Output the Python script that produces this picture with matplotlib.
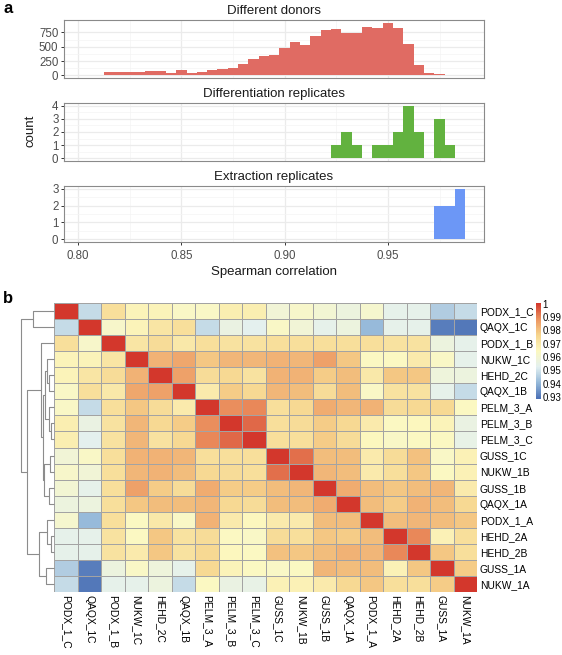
import numpy as np
import matplotlib
matplotlib.use("Agg")
import matplotlib.pyplot as plt
from matplotlib.colors import LinearSegmentedColormap

plt.rcParams['font.family'] = ['Liberation Sans', 'DejaVu Sans']

W, H = 562, 655

# ---- panel a: histograms of spearman correlation (bin centres, width 0.005)
bin_width = 0.005
donor_bins = [0.805, 0.810, 0.815, 0.820, 0.825, 0.830, 0.835, 0.840, 0.845, 0.850,
              0.855, 0.860, 0.865, 0.870, 0.875, 0.880, 0.885, 0.890, 0.895, 0.900,
              0.905, 0.910, 0.915, 0.920, 0.925, 0.930, 0.935, 0.940, 0.945, 0.950,
              0.955, 0.960, 0.965, 0.970, 0.975, 0.980, 0.985]
donor_counts = [12, 15, 60, 62, 55, 58, 80, 75, 50, 90,
                50, 63, 85, 115, 130, 200, 280, 343, 350, 480,
                578, 538, 687, 796, 813, 738, 744, 841, 836, 921,
                830, 544, 189, 40, 17, 10, 8]
diff_bins = [0.925, 0.930, 0.935, 0.945, 0.950, 0.955, 0.960, 0.965, 0.975, 0.980]
diff_counts = [1, 2, 1, 1, 1, 2, 4, 2, 3, 1]
extr_bins = [0.975, 0.980, 0.985]
extr_counts = [2, 2, 3]

# ---- panel b: correlation heatmap
samples = ["PODX_1_C", "QAQX_1C", "PODX_1_B", "NUKW_1C", "HEHD_2C", "QAQX_1B",
           "PELM_3_A", "PELM_3_B", "PELM_3_C", "GUSS_1C", "NUKW_1B", "GUSS_1B",
           "QAQX_1A", "PODX_1_A", "HEHD_2A", "HEHD_2B", "GUSS_1A", "NUKW_1A"]
# upper triangle, row i holds columns i+1 .. 17
upper = [
    [0.948, 0.973, 0.966, 0.966, 0.963, 0.963, 0.968, 0.968, 0.959, 0.962, 0.960, 0.957, 0.961, 0.954, 0.954, 0.945, 0.948],
    [0.962, 0.966, 0.971, 0.973, 0.948, 0.956, 0.953, 0.963, 0.959, 0.954, 0.957, 0.941, 0.954, 0.954, 0.931, 0.930],
    [0.971, 0.974, 0.970, 0.973, 0.972, 0.972, 0.973, 0.973, 0.973, 0.973, 0.973, 0.972, 0.972, 0.957, 0.954],
    [0.983, 0.985, 0.979, 0.982, 0.982, 0.983, 0.982, 0.986, 0.979, 0.964, 0.964, 0.969, 0.963, 0.954],
    [0.986, 0.974, 0.975, 0.972, 0.983, 0.983, 0.978, 0.981, 0.970, 0.979, 0.979, 0.958, 0.957],
    [0.969, 0.978, 0.975, 0.982, 0.981, 0.974, 0.981, 0.963, 0.972, 0.972, 0.954, 0.948],
    [0.989, 0.990, 0.973, 0.975, 0.984, 0.982, 0.983, 0.974, 0.975, 0.975, 0.964],
    [0.994, 0.973, 0.974, 0.978, 0.975, 0.969, 0.964, 0.965, 0.966, 0.956],
    [0.973, 0.973, 0.978, 0.974, 0.965, 0.963, 0.964, 0.964, 0.955],
    [0.993, 0.981, 0.981, 0.969, 0.974, 0.980, 0.963, 0.967],
    [0.982, 0.981, 0.969, 0.973, 0.979, 0.964, 0.967],
    [0.984, 0.981, 0.979, 0.981, 0.982, 0.969],
    [0.981, 0.978, 0.983, 0.981, 0.975],
    [0.981, 0.982, 0.981, 0.979],
    [0.990, 0.967, 0.973],
    [0.979, 0.973],
    [0.978],
]
# row dendrogram merges (child a, child b, height); ids >= 18 are earlier merges
merges = [
    (4, 5, 5), (3, 18, 7), (7, 8, 3), (6, 20, 5), (19, 21, 8.5),
    (9, 10, 4), (11, 12, 5), (23, 24, 9.5), (22, 25, 11), (2, 26, 13),
    (14, 15, 3), (13, 28, 7), (16, 17, 8), (29, 30, 15), (27, 31, 26),
    (0, 1, 20), (33, 32, 32),
]
cbar_ticks = [1.0, 0.99, 0.98, 0.97, 0.96, 0.95, 0.94, 0.93]
cbar_labels = ["1", "0.99", "0.98", "0.97", "0.96", "0.95", "0.94", "0.93"]


def px(l, t, r, b):
    return [l / W, 1 - b / H, (r - l) / W, (b - t) / H]


fig = plt.figure(figsize=(W / 100, H / 100), dpi=100)

# --- histograms
hist_specs = [
    ("Different donors", donor_bins, donor_counts, "#E06B63", [0, 250, 500, 750], (20, 78)),
    ("Differentiation replicates", diff_bins, diff_counts, "#62B23F", [0, 1, 2, 3, 4], (103, 161)),
    ("Extraction replicates", extr_bins, extr_counts, "#6C97F6", [0, 1, 2, 3], (186, 242)),
]
for k, (title, bins, counts, col, yt, (top, bot)) in enumerate(hist_specs):
    ax = fig.add_axes(px(64, top, 484, bot))
    ax.bar(bins, counts, width=bin_width, color=col, edgecolor="none")
    ymax = max(counts)
    ax.set_ylim(-0.05 * ymax, 1.05 * ymax)
    ax.set_xlim(0.7932, 0.9965)
    ax.set_axisbelow(True)
    ax.set_xticks([0.80, 0.85, 0.90, 0.95])
    ax.set_xticks([0.825, 0.875, 0.925, 0.975], minor=True)
    ax.set_yticks(yt)
    ax.set_yticks([(yt[i] + yt[i + 1]) / 2 for i in range(len(yt) - 1)], minor=True)
    ax.grid(True, which="major", color="#EBEBEB", lw=0.9)
    ax.grid(True, which="minor", color="#F4F4F4", lw=0.5)
    for s in ax.spines.values():
        s.set_color("#8A8A8A")
        s.set_linewidth(0.8)
    ax.tick_params(axis="y", which="major", length=2.5, width=0.7, color="#333333",
                   labelsize=8.3, labelcolor="#4D4D4D", pad=1.5)
    ax.tick_params(which="minor", length=0)
    ax.set_title(title, fontsize=9.5, pad=4.5, color="#1A1A1A")
    if k < 2:
        ax.tick_params(axis="x", which="major", length=0, labelbottom=False)
    else:
        ax.tick_params(axis="x", which="major", length=2.5, width=0.7, color="#333333",
                       labelsize=8.3, labelcolor="#4D4D4D", pad=3)
        ax.set_xticklabels(["0.80", "0.85", "0.90", "0.95"])
        ax.set_xlabel("Spearman correlation", fontsize=9.5, labelpad=3, color="#1A1A1A")

fig.text(31 / W, 1 - 131 / H, "count", rotation=90, ha="center", va="center",
         fontsize=9.5, color="#1A1A1A")
fig.text(3 / W, 1 - 13 / H, "a", fontsize=12, fontweight="bold", va="baseline")
fig.text(3 / W, 1 - 303 / H, "b", fontsize=12, fontweight="bold", va="baseline")

# --- heatmap
n = len(samples)
mat = np.ones((n, n))
for i, row in enumerate(upper):
    for j, v in enumerate(row):
        mat[i, i + 1 + j] = v
        mat[i + 1 + j, i] = v

# RdYlBu-like ramp, toned to the printed figure
cmap = LinearSegmentedColormap.from_list(
    "rdylbu", ["#4A6FB5", "#94B8D9", "#E3F0F0", "#FCF8C0", "#F6D58D", "#EC9460", "#D2352B"])
vmin, vmax = 0.9285, 1.0005

axh = fig.add_axes(px(54, 303, 477, 592))
mesh = axh.pcolormesh(np.arange(n + 1), np.arange(n + 1), mat, cmap=cmap, vmin=vmin, vmax=vmax,
                      edgecolors="#A3A3A3", linewidth=0.5)
axh.set_xlim(0, n)
axh.set_ylim(n, 0)
for s in axh.spines.values():
    s.set_visible(False)
centers = np.arange(n) + 0.5
axh.set_xticks(centers)
axh.set_xticklabels(samples, rotation=-90, fontsize=7.4)
axh.set_yticks(centers)
axh.set_yticklabels(samples, fontsize=7.4)
axh.yaxis.tick_right()
axh.tick_params(length=0, pad=2)

# --- row dendrogram
axd = fig.add_axes(px(21, 303, 54, 592))
pos = {i: (0.0, i + 0.5) for i in range(n)}
for k, (a, b, h) in enumerate(merges):
    xa, ya = pos[a]
    xb, yb = pos[b]
    axd.plot([xa, h, h, xb], [ya, ya, yb, yb], color="#8C8C8C", lw=0.8,
             solid_capstyle="butt", clip_on=False)
    pos[n + k] = (h, (ya + yb) / 2)
axd.set_xlim(max(m[2] for m in merges), 0)
axd.set_ylim(n, 0)
axd.axis("off")

# --- colour legend
cax = fig.add_axes(px(536, 303, 541, 399))
cb = fig.colorbar(mesh, cax=cax, ticks=cbar_ticks)
cb.outline.set_visible(False)
cb.ax.set_yticklabels(cbar_labels)
cb.ax.tick_params(length=0, labelsize=6.9, pad=1)

fig.savefig("out.png", dpi=100)
